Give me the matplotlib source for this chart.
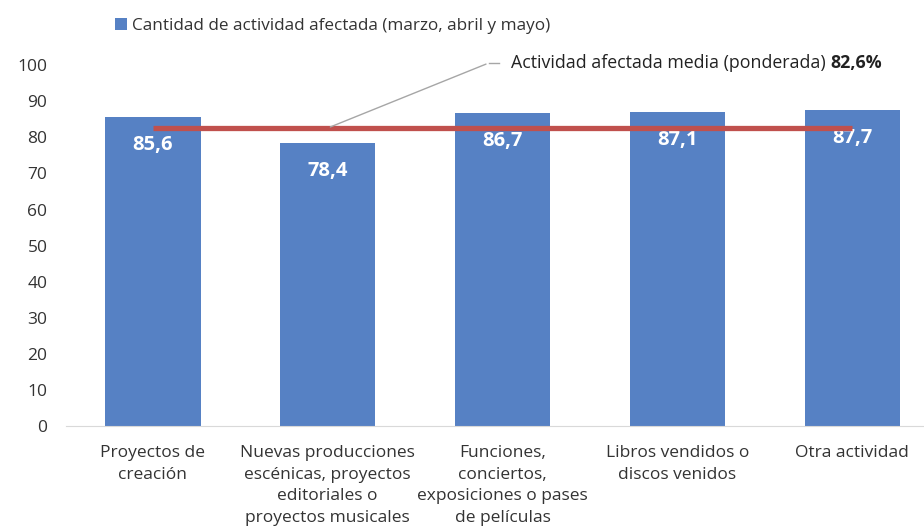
import matplotlib.pyplot as plt
import numpy as np

# Données
categories = ["Proyectos de\ncreación",
              "Nuevas producciones\nescénicas, proyectos\neditoriales o\nproyectos musicales",
              "Funciones,\nconciertos,\nexposiciones o pases\nde películas",
              "Libros vendidos o\ndiscos venidos",
              "Otra actividad"]
valores = [85.6, 78.4, 86.7, 87.1, 87.7]
etiquetas = ["85,6", "78,4", "86,7", "87,1", "87,7"]
media = 82.6
yticks = [0, 10, 20, 30, 40, 50, 60, 70, 80, 90, 100]

plt.rcParams['font.family'] = ['Open Sans', 'DejaVu Sans']

fig = plt.figure(figsize=(9.24, 5.29), dpi=100)
ax = fig.add_axes([0.0709, 0.1947, 0.946, 0.682])

x = np.arange(len(valores))
azul = '#5681C4'
ax.bar(x, valores, width=0.545, color=azul, zorder=2,
       label="Cantidad de actividad afectada (marzo, abril y mayo)")

# Etiquetas de valor en blanco
for xi, v, t in zip(x, valores, etiquetas):
    ax.text(xi, v - 7.8, t, ha='center', va='center', color='white',
            fontsize=14.5, fontweight='bold')

# Línea de media
ax.plot([x[0], x[-1]], [media, media], color='#C0504D', lw=3.8, zorder=3,
        solid_capstyle='butt')

# Anotación
ax.annotate("", xy=(1.0, media), xytext=(1.92, 100.6),
            arrowprops=dict(arrowstyle='-', color='#A6A6A6', lw=1), zorder=4)
ax.plot([1.92, 1.98], [100.6, 100.6], color='#A6A6A6', lw=1, clip_on=False)
ax.text(2.05, 100.6, "Actividad afectada media (ponderada) ", ha='left', va='center',
        fontsize=12.8, color='#222222')
ax.annotate("82,6%", xy=(1, 0.5), xycoords=ax.texts[-1], xytext=(0, 0),
            textcoords='offset points', ha='left', va='center',
            fontsize=12.8, fontweight='bold', color='#222222')

ax.set_xlim(-0.5, 4.5)
ax.set_ylim(0, 100)
ax.set_yticks(yticks)
ax.set_xticks(x)
ax.set_xticklabels(categories, fontsize=12.5, color='#333333', linespacing=1.45)
ax.tick_params(axis='both', length=0, labelsize=12.5, colors='#333333')
ax.tick_params(axis='x', pad=14)
ax.tick_params(axis='y', pad=13)
for s in ['top', 'right', 'left']:
    ax.spines[s].set_visible(False)
ax.spines['bottom'].set_color('#D9D9D9')

# Leyenda
leg = fig.legend(loc='upper left', bbox_to_anchor=(0.108, 0.995), frameon=False,
                 fontsize=12.3, handlelength=0.7, handleheight=0.7, handletextpad=0.3)
for t in leg.get_texts():
    t.set_color('#333333')

fig.savefig('out.png', dpi=100)
